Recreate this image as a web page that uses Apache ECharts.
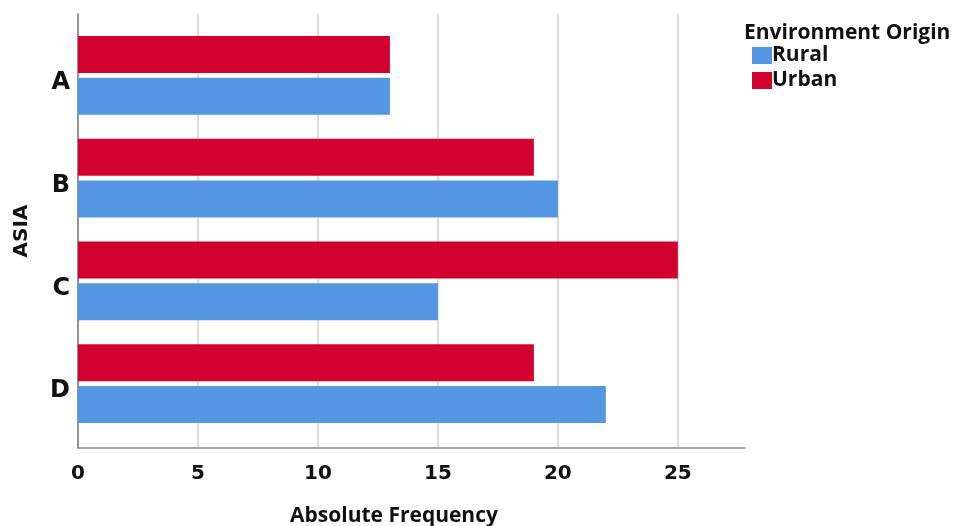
<!DOCTYPE html>
<html>
<head>
<meta charset="utf-8">
<script src="https://cdn.jsdelivr.net/npm/echarts@6/dist/echarts.min.js"></script>
<style>
html,body{margin:0;padding:0;background:#fff;}
#chart{width:956px;height:526px;}
</style>
</head>
<body>
<div id="chart"></div>
<script>
const categories = ['A', 'B', 'C', 'D'];
const rural = [13, 20, 15, 22];
const urban = [13, 19, 25, 19];
const xTicks = [0, 5, 10, 15, 20, 25];
const xMax = 27.8;

const chart = echarts.init(document.getElementById('chart'));
const tickFont = { fontFamily: 'DejaVu Sans', fontWeight: 'bold', fontSize: 20, color: '#111' };

chart.setOption({
  animation: false,
  backgroundColor: '#fff',
  grid: [
    { left: 78, top: 14, width: 667, height: 434 },
    { left: 78, top: 24, width: 667, height: 411 }
  ],
  xAxis: [
    {
      gridIndex: 0, type: 'value', min: xTicks[0], max: xMax, interval: 5,
      axisLine: { show: true, lineStyle: { color: '#8c8c8c', width: 1.5 } },
      axisTick: { show: false },
      axisLabel: Object.assign({ margin: 16, showMaxLabel: false }, tickFont),
      splitLine: { show: true, showMaxLine: false, lineStyle: { color: '#cfcfcf', width: 1.5 } }
    },
    {
      gridIndex: 1, type: 'value', min: xTicks[0], max: xMax,
      show: false
    }
  ],
  yAxis: [
    {
      gridIndex: 0, type: 'value', min: 0, max: 1,
      axisLine: { show: true, lineStyle: { color: '#7a7a7a', width: 1.5 } },
      axisTick: { show: false }, axisLabel: { show: false }, splitLine: { show: false }
    },
    {
      gridIndex: 1, type: 'category', data: categories, inverse: true,
      axisLine: { show: false }, axisTick: { show: false }, splitLine: { show: false },
      axisLabel: { fontFamily: 'DejaVu Sans', fontWeight: 'bold', fontSize: 24, color: '#111', margin: 8, verticalAlign: 'top', lineHeight: 15 }
    }
  ],
  legend: {
    left: 747, top: 40, orient: 'vertical', itemWidth: 20, itemHeight: 17, itemGap: 4,
    icon: 'rect', data: ['Rural', 'Urban'],
    textStyle: { fontFamily: 'Open Sans', fontWeight: 'bold', fontSize: 21, lineHeight: 17, color: '#111', padding: [2, 0, 0, -5] }
  },
  graphic: [
    { type: 'text', left: 744, y: 33, style: { text: 'Environment Origin', fontFamily: 'Open Sans', fontWeight: 'bold', fontSize: 21, fill: '#111', verticalAlign: 'middle' } },
    { type: 'text', left: 290, y: 516, style: { text: 'Absolute Frequency', fontFamily: 'Open Sans', fontWeight: 'bold', fontSize: 21, fill: '#111', verticalAlign: 'middle' } },
    { type: 'text', x: 22, y: 231, rotation: Math.PI / 2, style: { text: 'ASIA', fontFamily: 'DejaVu Sans', fontWeight: 'bold', fontSize: 20, fill: '#111', align: 'center', verticalAlign: 'middle' } }
  ],
  series: [
    { name: 'Urban', type: 'bar', xAxisIndex: 1, yAxisIndex: 1, data: urban, barWidth: 37, barGap: '13.5%', itemStyle: { color: '#d2002e' } },
    { name: 'Rural', type: 'bar', xAxisIndex: 1, yAxisIndex: 1, data: rural, barWidth: 37, barGap: '13.5%', itemStyle: { color: '#5596e3' } }
  ]
});
</script>
</body>
</html>
